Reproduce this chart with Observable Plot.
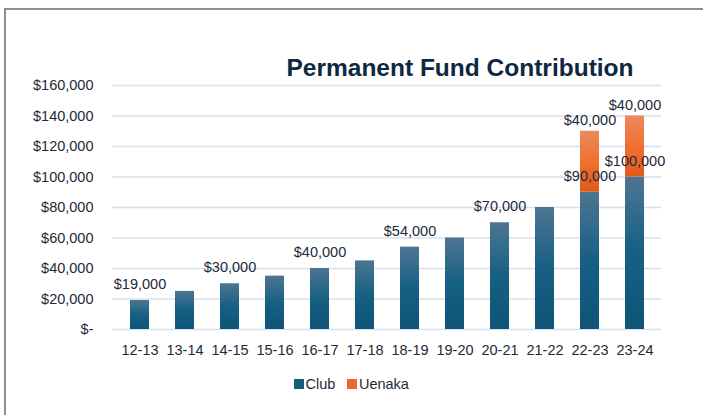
<!DOCTYPE html>
<html>
<head>
<meta charset="utf-8">
<script src="https://cdn.jsdelivr.net/npm/d3@7"></script>
<script src="https://cdn.jsdelivr.net/npm/@observablehq/plot@0.6"></script>
<style>
  html, body { margin: 0; padding: 0; background: #fff; }
  #wrap { position: relative; width: 703px; height: 415px; overflow: hidden; font-family: "Liberation Sans", Arial, sans-serif; }
  #border { position: absolute; left: 4px; top: 8px; width: 720px; height: 420px; border-left: 2px solid #8e8e88; border-top: 2px solid #8e8e88; box-sizing: border-box; }
  #chart { position: absolute; left: 0; top: 0; }
  #legend { position: absolute; top: 376px; left: 0; width: 703px; display: flex; justify-content: center; gap: 12px; font-size: 14.5px; color: #1e2a38; padding-left: 0px; box-sizing: border-box; }
  #legend .item { display: flex; align-items: center; gap: 2px; }
  #legend .sw { width: 9.5px; height: 9.5px; display: inline-block; }
</style>
</head>
<body>
<div id="wrap">
  <div id="border"></div>
  <div id="chart"></div>
  <div id="legend"></div>
</div>
<script>
const title = "Permanent Fund Contribution";
const years = ["12-13","13-14","14-15","15-16","16-17","17-18","18-19","19-20","20-21","21-22","22-23","23-24"];
const club = [19000, 25000, 30000, 35000, 40000, 45000, 54000, 60000, 70000, 80000, 90000, 100000];
const uenaka = [0, 0, 0, 0, 0, 0, 0, 0, 0, 0, 40000, 40000];
const clubLabeled = ["12-13","14-15","16-17","18-19","20-21","22-23","23-24"];
const yTicks = [0, 20000, 40000, 60000, 80000, 100000, 120000, 140000, 160000];
const seriesNames = ["Club", "Uenaka"];
const seriesColors = ["#155e80", "#e8692a"];

const rows = years.map((y, i) => ({year: y, club: club[i], uenaka: uenaka[i], total: club[i] + uenaka[i]}));
const money = d => d === 0 ? "$-" : "$" + d3.format(",")(d);
const textColor = "#1e2a38";

const svg = Plot.plot({
  width: 703,
  height: 360,
  marginTop: 85,
  marginBottom: 31,
  marginLeft: 112,
  marginRight: 42,
  style: {fontFamily: "'Liberation Sans', Arial, sans-serif", fontSize: "14.5px", color: textColor, background: "transparent"},
  x: {domain: years, paddingInner: 0.58, paddingOuter: 0.29, label: null, tickSize: 0, tickPadding: 15},
  y: {domain: [0, 160000], ticks: yTicks, tickFormat: money, label: null, tickSize: 0, tickPadding: 19},
  marks: [
    Plot.ruleY(yTicks, {stroke: "#d3e2f1", strokeWidth: 1.5}),
    Plot.barY(rows, {x: "year", y: "club", fill: "url(#gClub)"}),
    Plot.barY(rows.filter(d => d.uenaka > 0), {x: "year", y1: "club", y2: "total", fill: "url(#gUen)"}),
    Plot.text(rows.filter(d => clubLabeled.includes(d.year)), {x: "year", y: "club", text: d => money(d.club), dy: -16, fill: textColor, fontSize: 14.5}),
    Plot.text(rows.filter(d => d.uenaka > 0), {x: "year", y: "total", text: d => money(d.uenaka), dy: -11, fill: textColor, fontSize: 14.5}),
    Plot.text([title], {frameAnchor: "top", dx: 73, dy: -27, fontSize: 24.5, fontWeight: "bold", fill: "#0e2841"})
  ]
});

// gradient definitions for the bar fills
const defs = d3.select(svg).insert("defs", ":first-child");
const g1 = defs.append("linearGradient").attr("id", "gClub").attr("x1", 0).attr("y1", 0).attr("x2", 0).attr("y2", 1);
g1.append("stop").attr("offset", "0%").attr("stop-color", "#4e7592");
g1.append("stop").attr("offset", "50%").attr("stop-color", "#166084");
g1.append("stop").attr("offset", "100%").attr("stop-color", "#0e5577");
const g2 = defs.append("linearGradient").attr("id", "gUen").attr("x1", 0).attr("y1", 0).attr("x2", 0).attr("y2", 1);
g2.append("stop").attr("offset", "0%").attr("stop-color", "#ec8a5e");
g2.append("stop").attr("offset", "50%").attr("stop-color", "#f0702f");
g2.append("stop").attr("offset", "100%").attr("stop-color", "#de5a1b");

document.getElementById("chart").appendChild(svg);

const legend = document.getElementById("legend");
seriesNames.forEach((n, i) => {
  const item = document.createElement("span");
  item.className = "item";
  const sw = document.createElement("span");
  sw.className = "sw";
  sw.style.background = seriesColors[i];
  const t = document.createElement("span");
  t.textContent = n;
  item.appendChild(sw);
  item.appendChild(t);
  legend.appendChild(item);
});
</script>
</body>
</html>
